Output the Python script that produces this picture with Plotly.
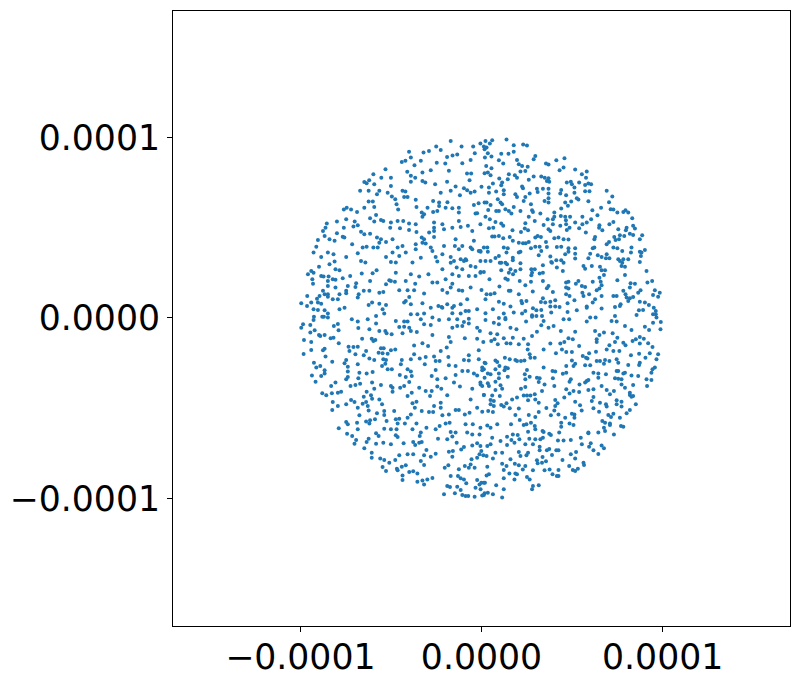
import plotly.graph_objects as go

# points, in units of 1e-4, one list per quadrant of the disc
upper_left = [
    (-0.17,0.98),(-0.25,0.95),(-0.225,0.93),(-0.29,0.925),(-0.32,0.916),(-0.40,0.92),(-0.39,0.888),(-0.42,0.87),(-0.44,0.864),(-0.335,0.87),
    (-0.37,0.846),(-0.41,0.81),(-0.39,0.787),(-0.366,0.777),(-0.39,0.754),(-0.326,0.805),(-0.28,0.818),(-0.247,0.86),(-0.20,0.855),(-0.18,0.815),
    (-0.19,0.892),(-0.16,0.90),(-0.134,0.905),(-0.11,0.95),(-0.046,0.95),(-0.006,0.966),(0.013,0.95),(-0.037,0.912),(-0.106,0.857),(-0.06,0.875),
    (-0.08,0.80),(-0.057,0.80),(-0.066,0.763),(0.0,0.726),(-0.19,0.755),(-0.143,0.728),(-0.097,0.718),(-0.079,0.707),(-0.119,0.68),(-0.06,0.694),
    (-0.038,0.70),(-0.17,0.704),(-0.225,0.694),(-0.31,0.75),(-0.326,0.759),(-0.256,0.74),(-0.53,0.824),(-0.597,0.796),(-0.553,0.777),(-0.50,0.777),
    (-0.62,0.763),(-0.647,0.753),(-0.634,0.746),(-0.592,0.74),(-0.50,0.731),(-0.67,0.704),(-0.623,0.704),(-0.564,0.704),(-0.518,0.694),(-0.436,0.704),
    (-0.42,0.70),(-0.577,0.685),(-0.495,0.672),(-0.476,0.657),(-0.427,0.67),(-0.408,0.67),(-0.623,0.645),(-0.60,0.645),(-0.363,0.654),(-0.359,0.615),
    (-0.469,0.63),(-0.46,0.60),(-0.267,0.648),(-0.234,0.639),(-0.188,0.641),(-0.76,0.60),(-0.744,0.61),(-0.72,0.60),(-0.687,0.587),(-0.647,0.61),
    (-0.592,0.615),(-0.582,0.57),(-0.615,0.552),(-0.592,0.534),(-0.555,0.543),(-0.542,0.537),(-0.747,0.547),(-0.76,0.50),(-0.70,0.534),(-0.683,0.513),
    (-0.707,0.506),(-0.798,0.534),(-0.854,0.523),(-0.861,0.50),(-0.875,0.482),(-0.798,0.469),(-0.866,0.454),(-0.839,0.436),(-0.811,0.427),(-0.903,0.432),
    (-0.912,0.395),(-0.927,0.362),(-0.766,0.45),(-0.757,0.445),(-0.714,0.408),(-0.665,0.478),(-0.647,0.464),(-0.615,0.467),(-0.577,0.445),(-0.656,0.39),
    (-0.634,0.395),(-0.597,0.39),(-0.573,0.39),(-0.555,0.436),(-0.564,0.417),(-0.527,0.421),(-0.491,0.436),(-0.50,0.528),(-0.504,0.50),(-0.463,0.537),
    (-0.432,0.537),(-0.45,0.497),(-0.40,0.523),(-0.363,0.519),(-0.40,0.487),(-0.359,0.476),(-0.33,0.584),(-0.317,0.574),(-0.326,0.56),(-0.298,0.611),
    (-0.267,0.587),(-0.244,0.593),(-0.234,0.62),(-0.198,0.611),(-0.161,0.608),(-0.262,0.528),(-0.262,0.5),(-0.216,0.519),(-0.289,0.473),(-0.262,0.482),
    (-0.207,0.491),(-0.161,0.5),(-0.125,0.584),(-0.125,0.537),(-0.115,0.504),(-0.075,0.51),(-0.051,0.482),(-0.006,0.519),(-0.042,0.626),(-0.125,0.611),
    (-0.016,0.635),(-0.033,0.578),(-0.024,0.58),(-0.143,0.436),(-0.106,0.399),(-0.147,0.399),(-0.06,0.39),(-0.042,0.427),(-0.006,0.371),(-0.051,0.38),
    (-0.088,0.325),(-0.097,0.316),(-0.17,0.338),(-0.152,0.316),(-0.253,0.338),(-0.244,0.312),(-0.207,0.399),(-0.326,0.417),(-0.363,0.408),(-0.308,0.412),
    (-0.28,0.39),(-0.262,0.449),(-0.363,0.38),(-0.335,0.334),(-0.381,0.307),(-0.418,0.362),(-0.463,0.39),(-0.436,0.399),(-0.491,0.362),(-0.454,0.343),
    (-0.473,0.307),(-0.5,0.31),(-0.527,0.338),(-0.665,0.316),(-0.641,0.307),(-0.683,0.358),(-0.747,0.338),(-0.811,0.312),(-0.839,0.297),(-0.817,0.353),
    (-0.848,0.362),(-0.885,0.338),(-0.897,0.284),(-0.94,0.26),(-0.927,0.251),(-0.958,0.242),(-0.885,0.233),(-0.872,0.229),(-0.934,0.214),(-0.93,0.19),
    (-0.806,0.27),(-0.784,0.264),(-0.844,0.229),(-0.821,0.214),(-0.848,0.205),(-0.806,0.211),(-0.766,0.22),(-0.725,0.233),(-0.661,0.246),(-0.615,0.205),
    (-0.579,0.264),(-0.601,0.247),(-0.509,0.209),(-0.473,0.251),(-0.478,0.201),(-0.418,0.205),(-0.39,0.242),(-0.344,0.229),(-0.293,0.242),(-0.738,0.177),
    (-0.747,0.15),(-0.692,0.192),(-0.696,0.172),(-0.806,0.168),(-0.848,0.177),(-0.875,0.15),(-0.848,0.131),(-0.784,0.131),(-0.747,0.137),(-0.678,0.131),
    (-0.65,0.15),(-0.619,0.15),(-0.564,0.14),(-0.542,0.144),(-0.527,0.186),(-0.5,0.205),(-0.454,0.153),(-0.408,0.153),(-0.366,0.19),(-0.372,0.153),
    (-0.317,0.135),(-0.271,0.196),(-0.244,0.196),(-0.216,0.155),(-0.17,0.168),(-0.161,0.19),(-0.125,0.153),(-0.106,0.15),(-0.06,0.168),(-0.189,0.14),
    (-0.995,0.081),(-0.962,0.122),(-0.963,0.066),(-0.94,0.085),(-0.908,0.107),(-0.894,0.122),(-0.903,0.085),(-0.885,0.079),(-0.866,0.131),(-0.848,0.118),
    (-0.821,0.103),(-0.793,0.103),(-0.784,0.048),(-0.756,0.057),(-0.683,0.113),(-0.623,0.072),(-0.604,0.085),(-0.564,0.079),(-0.527,0.072),(-0.418,0.094),
    (-0.399,0.116),(-0.427,0.085),(-0.39,0.076),(-0.326,0.081),(-0.238,0.066),(-0.22,0.061),(-0.189,0.076),(-0.152,0.066),(-0.115,0.076),(-0.079,0.103),
    (-0.927,0.048),(-0.903,0.044),(-0.866,0.042),(-0.848,0.024),(-0.925,0.007),(-0.879,0.007),(-0.87,0.007),(-0.848,0.002),(-0.582,0.011),(-0.546,0.048),
    (-0.537,0.024),(-0.39,0.02),(-0.354,0.02),(-0.317,0.024),(-0.28,0.057),(-0.271,0.002),(-0.216,0.057),(-0.161,0.057),(-0.161,0.026),(-0.115,0.024),
    (-0.088,0.039),(-0.07,0.039),(-0.024,0.048),
]

upper_right = [
    (0.138,0.988),(0.059,0.984),(0.022,0.98),(0.046,0.966),(0.178,0.957),(0.23,0.96),(0.251,0.955),(0.028,0.944),(0.017,0.934),(0.035,0.912),
    (0.109,0.91),(0.149,0.91),(0.178,0.921),(0.055,0.894),(0.019,0.888),(0.297,0.897),(0.288,0.879),(0.458,0.885),(0.413,0.874),(0.196,0.875),
    (0.206,0.851),(0.096,0.873),(0.12,0.855),(0.356,0.855),(0.37,0.85),(0.453,0.833),(0.431,0.818),(0.517,0.822),(0.224,0.842),(0.255,0.838),
    (0.242,0.814),(0.215,0.811),(0.581,0.811),(0.554,0.796),(0.577,0.777),(0.055,0.829),(0.026,0.842),(0.035,0.805),(0.017,0.801),(0.05,0.79),
    (0.151,0.796),(0.184,0.79),(0.196,0.777),(0.145,0.768),(0.098,0.772),(0.288,0.783),(0.261,0.766),(0.33,0.783),(0.349,0.777),(0.37,0.774),
    (0.361,0.759),(0.374,0.755),(0.063,0.744),(0.114,0.75),(0.109,0.735),(0.224,0.728),(0.229,0.718),(0.471,0.75),(0.493,0.755),(0.499,0.741),
    (0.539,0.75),(0.572,0.737),(0.59,0.744),(0.605,0.741),(0.513,0.722),(0.041,0.722),(0.041,0.694),(0.081,0.70),(0.123,0.707),(0.123,0.685),
    (0.306,0.716),(0.339,0.715),(0.37,0.716),(0.31,0.698),(0.37,0.689),(0.37,0.663),(0.348,0.648),(0.37,0.639),(0.44,0.709),(0.435,0.689),
    (0.467,0.68),(0.513,0.694),(0.572,0.702),(0.596,0.702),(0.691,0.704),(0.722,0.672),(0.187,0.685),(0.196,0.67),(0.242,0.67),(0.266,0.689),
    (0.233,0.648),(0.526,0.663),(0.535,0.656),(0.59,0.646),(0.704,0.641),(0.09,0.657),(0.105,0.639),(0.114,0.63),(0.05,0.626),(0.017,0.639),
    (0.028,0.639),(0.273,0.63),(0.462,0.639),(0.495,0.645),(0.477,0.622),(0.44,0.606),(0.402,0.584),(0.178,0.615),(0.132,0.602),(0.151,0.593),
    (0.165,0.578),(0.096,0.593),(0.081,0.593),(0.037,0.598),(0.215,0.593),(0.279,0.596),(0.284,0.587),(0.325,0.578),(0.612,0.596),(0.66,0.611),
    (0.64,0.569),(0.713,0.602),(0.728,0.6),(0.75,0.584),(0.795,0.597),(0.783,0.587),(0.81,0.584),(0.832,0.552),(0.728,0.532),(0.706,0.519),
    (0.651,0.513),(0.649,0.50),(0.667,0.486),(0.022,0.561),(0.046,0.547),(0.077,0.532),(0.109,0.523),(0.12,0.51),(0.041,0.497),(0.065,0.5),
    (0.261,0.561),(0.242,0.524),(0.294,0.537),(0.343,0.515),(0.365,0.547),(0.394,0.547),(0.402,0.56),(0.438,0.565),(0.462,0.561),(0.489,0.56),
    (0.466,0.541),(0.517,0.528),(0.557,0.561),(0.581,0.528),(0.605,0.547),(0.557,0.519),(0.539,0.497),(0.576,0.473),(0.171,0.486),(0.239,0.495),
    (0.257,0.486),(0.218,0.476),(0.37,0.491),(0.38,0.482),(0.435,0.51),(0.471,0.487),(0.486,0.5),(0.467,0.519),(0.394,0.519),(0.059,0.451),
    (0.072,0.451),(0.096,0.454),(0.12,0.441),(0.156,0.449),(0.173,0.427),(0.297,0.445),(0.31,0.454),(0.328,0.449),(0.402,0.441),(0.425,0.445),
    (0.453,0.436),(0.48,0.434),(0.627,0.449),(0.623,0.436),(0.755,0.491),(0.801,0.5),(0.797,0.486),(0.819,0.467),(0.837,0.46),(0.837,0.51),
    (0.847,0.495),(0.764,0.458),(0.788,0.454),(0.733,0.449),(0.74,0.432),(0.759,0.436),(0.874,0.436),(0.887,0.458),(0.704,0.421),(0.691,0.408),
    (0.206,0.417),(0.229,0.414),(0.244,0.414),(0.261,0.421),(0.297,0.395),(0.273,0.386),(0.356,0.421),(0.361,0.393),(0.321,0.395),(0.33,0.371),
    (0.416,0.393),(0.44,0.395),(0.48,0.386),(0.48,0.367),(0.517,0.386),(0.123,0.39),(0.145,0.386),(0.138,0.362),(0.215,0.366),(0.206,0.362),
    (0.032,0.39),(0.035,0.367),(-0.005,0.366),(0.096,0.343),(0.077,0.332),(0.173,0.334),(0.173,0.319),(0.101,0.306),(0.109,0.306),(0.022,0.316),
    (0.05,0.316),(0.132,0.306),(0.141,0.297),(0.215,0.303),(0.316,0.347),(0.38,0.34),(0.389,0.306),(0.413,0.319),(0.44,0.319),(0.453,0.306),
    (0.462,0.353),(0.517,0.356),(0.517,0.329),(0.6,0.356),(0.614,0.386),(0.623,0.39),(0.59,0.331),(0.642,0.347),(0.663,0.338),(0.691,0.353),
    (0.687,0.331),(0.706,0.331),(0.728,0.39),(0.75,0.386),(0.777,0.371),(0.828,0.39),(0.825,0.362),(0.755,0.325),(0.764,0.316),(0.783,0.325),
    (0.81,0.325),(0.874,0.367),(0.902,0.377),(0.883,0.362),(0.88,0.343),(0.874,0.31),(0.773,0.288),(0.792,0.283),(0.777,0.306),(0.109,0.264),
    (0.215,0.27),(0.187,0.26),(0.16,0.27),(0.151,0.251),(0.174,0.242),(0.132,0.218),(0.145,0.211),(0.044,0.214),(-0.005,0.255),(0.013,0.255),
    (0.275,0.27),(0.294,0.27),(0.279,0.251),(0.321,0.246),(0.339,0.251),(0.339,0.292),(0.385,0.31),(0.275,0.236),(0.416,0.279),(0.449,0.26),
    (0.563,0.288),(0.572,0.273),(0.609,0.288),(0.654,0.284),(0.663,0.264),(0.682,0.264),(0.676,0.238),(0.651,0.223),(0.792,0.238),(0.75,0.209),
    (0.911,0.26),(0.942,0.205),(0.916,0.196),(0.847,0.19),(0.823,0.192),(0.819,0.168),(0.211,0.205),(0.242,0.181),(0.273,0.201),(0.339,0.205),
    (0.37,0.177),(0.361,0.164),(0.467,0.196),(0.48,0.2),(0.467,0.168),(0.48,0.163),(0.521,0.19),(0.535,0.205),(0.099,0.174),(0.0,0.155),
    (0.151,0.15),(0.16,0.15),(0.283,0.146),(0.394,0.144),(0.554,0.177),(0.572,0.172),(0.614,0.201),(0.658,0.201),(0.663,0.181),(0.651,0.163),
    (0.636,0.153),(0.557,0.14),(0.028,0.131),(0.05,0.131),(0.072,0.137),(0.022,0.103),(0.206,0.131),(0.339,0.109),(0.467,0.131),(0.486,0.122),
    (0.563,0.122),(0.594,0.131),(0.663,0.122),(0.728,0.122),(0.746,0.122),(0.783,0.15),(0.795,0.131),(0.819,0.109),(0.837,0.116),(0.865,0.14),
    (0.878,0.153),(0.947,0.127),(0.957,0.153),(0.984,0.14),(0.975,0.118),(0.801,0.113),(0.81,0.094),(0.096,0.09),(0.123,0.079),(0.22,0.094),
    (0.248,0.094),(0.224,0.081),(0.328,0.089),(0.352,0.085),(0.38,0.09),(0.407,0.098),(0.475,0.081),(0.513,0.098),(0.627,0.103),(0.614,0.085),
    (0.581,0.063),(0.874,0.09),(0.902,0.085),(0.924,0.072),(0.768,0.076),(0.737,0.061),(0.892,0.044),(0.869,0.042),(0.951,0.057),(0.962,0.039),
    (0.962,0.02),(0.947,0.02),(0.966,0.002),(0.022,0.026),(0.063,0.048),(0.123,0.024),(0.16,0.063),(0.178,0.03),(0.224,0.024),(0.242,0.039),
    (0.284,0.054),(0.303,0.042),(0.33,0.044),(0.279,0.015),(0.303,0.011),(0.334,0.011),(0.38,0.063),(0.385,0.03),(0.407,0.063),(0.431,0.061),
    (0.475,0.033),(0.526,0.042),(0.581,0.057),(0.663,0.052),(0.737,0.011),(0.764,0.066),(0.856,0.017),(0.132,0.0),
]

lower_left = [
    (-0.995,-0.054),(-0.985,-0.035),(-0.945,-0.039),(-0.927,-0.011),(-0.945,-0.081),(-0.921,-0.068),(-0.897,-0.094),(-0.89,-0.1),(-0.866,-0.094),(-0.98,-0.122),
    (-0.94,-0.133),(-0.982,-0.2),(-0.94,-0.177),(-0.866,-0.17),(-0.875,-0.179),(-0.861,-0.214),(-0.833,-0.113),(-0.817,-0.109),(-0.788,-0.14),(-0.815,-0.044),
    (-0.793,-0.033),(-0.789,-0.068),(-0.716,-0.007),(-0.683,-0.02),(-0.68,-0.055),(-0.628,-0.007),(-0.619,-0.063),(-0.582,-0.03),(-0.564,-0.072),(-0.531,-0.072),
    (-0.524,-0.085),(-0.496,-0.09),(-0.659,-0.115),(-0.606,-0.115),(-0.597,-0.128),(-0.586,-0.122),(-0.734,-0.159),(-0.707,-0.161),(-0.683,-0.159),(-0.729,-0.183),
    (-0.637,-0.183),(-0.65,-0.207),(-0.696,-0.201),(-0.555,-0.168),(-0.54,-0.168),(-0.568,-0.192),(-0.546,-0.196),(-0.518,-0.198),(-0.5,-0.179),(-0.476,-0.174),
    (-0.619,-0.224),(-0.592,-0.233),(-0.542,-0.229),(-0.527,-0.233),(-0.531,-0.253),(-0.549,-0.266),(-0.747,-0.233),(-0.756,-0.251),(-0.683,-0.257),(-0.738,-0.27),
    (-0.738,-0.297),(-0.925,-0.248),(-0.912,-0.275),(-0.89,-0.266),(-0.866,-0.29),(-0.866,-0.307),(-0.885,-0.321),(-0.936,-0.318),(-0.916,-0.353),(-0.824,-0.242),
    (-0.674,-0.303),(-0.68,-0.334),(-0.634,-0.307),(-0.601,-0.299),(-0.747,-0.34),(-0.738,-0.327),(-0.806,-0.358),(-0.83,-0.377),(-0.696,-0.371),(-0.723,-0.377),
    (-0.67,-0.364),(-0.604,-0.358),(-0.592,-0.392),(-0.555,-0.371),(-0.5,-0.377),(-0.491,-0.386),(-0.491,-0.408),(-0.879,-0.417),(-0.857,-0.428),(-0.826,-0.417),
    (-0.793,-0.414),(-0.775,-0.408),(-0.821,-0.465),(-0.793,-0.488),(-0.824,-0.51),(-0.747,-0.478),(-0.72,-0.454),(-0.701,-0.465),(-0.65,-0.436),(-0.634,-0.408),
    (-0.61,-0.428),(-0.604,-0.447),(-0.564,-0.451),(-0.549,-0.478),(-0.683,-0.497),(-0.656,-0.475),(-0.637,-0.465),(-0.628,-0.488),(-0.623,-0.512),(-0.577,-0.528),
    (-0.537,-0.515),(-0.537,-0.537),(-0.482,-0.515),(-0.674,-0.539),(-0.747,-0.576),(-0.738,-0.589),(-0.788,-0.611),(-0.687,-0.58),(-0.683,-0.617),(-0.637,-0.574),
    (-0.615,-0.567),(-0.588,-0.561),(-0.619,-0.584),(-0.524,-0.571),(-0.473,-0.561),(-0.454,-0.558),(-0.463,-0.584),(-0.423,-0.584),(-0.39,-0.534),(-0.408,-0.552),
    (-0.537,-0.613),(-0.5,-0.617),(-0.469,-0.617),(-0.381,-0.617),(-0.359,-0.585),(-0.742,-0.641),(-0.714,-0.654),(-0.692,-0.676),(-0.701,-0.696),(-0.582,-0.639),
    (-0.568,-0.654),(-0.623,-0.669),(-0.634,-0.687),(-0.582,-0.696),(-0.542,-0.691),(-0.5,-0.7),(-0.647,-0.722),(-0.473,-0.65),(-0.463,-0.659),(-0.43,-0.694),
    (-0.377,-0.687),(-0.366,-0.704),(-0.344,-0.691),(-0.33,-0.687),(-0.335,-0.635),(-0.341,-0.654),(-0.304,-0.608),(-0.253,-0.617),(-0.231,-0.598),(-0.24,-0.669),
    (-0.606,-0.746),(-0.606,-0.774),(-0.559,-0.778),(-0.537,-0.787),(-0.509,-0.802),(-0.476,-0.787),(-0.454,-0.761),(-0.408,-0.755),(-0.377,-0.755),(-0.546,-0.826),
    (-0.527,-0.848),(-0.467,-0.835),(-0.463,-0.844),(-0.44,-0.824),(-0.418,-0.816),(-0.335,-0.792),(-0.317,-0.814),(-0.304,-0.731),(-0.28,-0.768),(-0.253,-0.752),
    (-0.317,-0.761),(-0.399,-0.853),(-0.377,-0.849),(-0.354,-0.862),(-0.436,-0.872),(-0.436,-0.898),(-0.354,-0.907),(-0.326,-0.9),(-0.299,-0.894),(-0.271,-0.886),
    (-0.317,-0.922),(-0.203,-0.829),(-0.183,-0.816),(-0.125,-0.838),(-0.207,-0.977),(-0.189,-0.931),(-0.174,-0.936),(-0.17,-0.875),(-0.13,-0.875),(-0.115,-0.888),
    (-0.097,-0.894),(-0.084,-0.916),(-0.134,-0.935),(-0.115,-0.953),(-0.147,-0.971),(-0.106,-0.981),(-0.088,-0.986),(-0.073,-0.986),(-0.038,-0.99),(-0.033,-0.94),
    (-0.011,-0.922),(-0.024,-0.898),(0.013,-0.912),(0.013,-0.98),(-0.473,-0.017),(-0.427,-0.02),(-0.408,-0.02),(-0.454,-0.05),(-0.427,-0.048),(-0.399,-0.054),
    (-0.39,-0.072),(-0.436,-0.085),(-0.357,-0.078),(-0.335,-0.007),(-0.317,-0.035),(-0.28,-0.039),(-0.234,-0.011),(-0.271,-0.094),(-0.372,-0.152),(-0.326,-0.14),
    (-0.295,-0.155),(-0.372,-0.201),(-0.39,-0.229),(-0.341,-0.224),(-0.308,-0.216),(-0.262,-0.214),(-0.225,-0.183),(-0.192,-0.164),(-0.183,-0.216),(-0.44,-0.233),
    (-0.445,-0.257),(-0.408,-0.284),(-0.39,-0.297),(-0.385,-0.321),(-0.418,-0.327),(-0.451,-0.316),(-0.495,-0.284),(-0.518,-0.284),(-0.313,-0.257),(-0.253,-0.238),
    (-0.231,-0.238),(-0.253,-0.288),(-0.275,-0.321),(-0.244,-0.34),(-0.198,-0.334),(-0.152,-0.358),(-0.143,-0.316),(-0.18,-0.262),(-0.143,-0.266),(-0.399,-0.355),
    (-0.427,-0.377),(-0.449,-0.386),(-0.344,-0.386),(-0.308,-0.405),(-0.275,-0.405),(-0.244,-0.38),(-0.222,-0.392),(-0.284,-0.432),(-0.189,-0.428),(-0.408,-0.432),
    (-0.385,-0.414),(-0.381,-0.473),(-0.359,-0.464),(-0.368,-0.497),(-0.33,-0.515),(-0.262,-0.488),(-0.225,-0.469),(-0.225,-0.497),(-0.29,-0.521),(-0.267,-0.521),
    (-0.216,-0.539),(-0.18,-0.534),(-0.143,-0.51),(-0.125,-0.51),(-0.06,-0.451),(-0.024,-0.497),(-0.066,-0.525),(-0.092,-0.534),(-0.198,-0.584),(-0.176,-0.58),
    (-0.088,-0.589),(-0.048,-0.589),(-0.079,-0.635),(-0.051,-0.645),(-0.011,-0.645),(-0.006,-0.608),(-0.17,-0.632),(-0.143,-0.635),(-0.189,-0.672),(-0.161,-0.657),
    (-0.137,-0.691),(-0.097,-0.715),(-0.051,-0.706),(-0.024,-0.694),(-0.18,-0.741),(-0.158,-0.737),(-0.112,-0.728),(-0.006,-0.709),(-0.161,-0.768),(-0.055,-0.783),
    (-0.024,-0.774),(-0.011,-0.755),(-0.092,-0.82),(-0.07,-0.829),(-0.038,-0.829),(-0.06,-0.811),(-0.18,-0.007),(-0.134,-0.007),(-0.07,-0.004),(-0.161,-0.054),
    (-0.134,-0.044),(-0.106,-0.044),(-0.07,-0.03),(-0.097,-0.022),(-0.024,-0.054),(-0.009,-0.072),(-0.18,-0.105),(-0.17,-0.133),(-0.092,-0.113),(-0.024,-0.115),
    (-0.015,-0.179),(-0.07,-0.207),(-0.097,-0.233),(-0.015,-0.229),(-0.07,-0.235),(-0.106,-0.294),(-0.075,-0.294),(-0.042,-0.307),(-0.024,-0.318),(0.013,-0.284),
    (-0.006,-0.358),(-0.051,-0.392),(0.013,-0.427),(-0.119,-0.38),
]

lower_right = [
    (0.022,-0.011),(0.068,-0.026),(0.096,0.0),(0.096,-0.035),(0.132,-0.007),(0.246,-0.02),(0.279,0.007),(0.33,-0.041),(0.343,-0.017),(0.37,-0.054),
    (0.398,-0.044),(0.438,-0.072),(0.453,-0.007),(0.484,-0.007),(0.517,-0.076),(0.581,-0.02),(0.6,0.002),(0.63,0.002),(0.627,-0.072),(0.676,-0.081),
    (0.651,-0.094),(0.724,-0.085),(0.718,-0.017),(0.746,-0.02),(0.792,-0.044),(0.828,-0.067),(0.902,-0.048),(0.925,-0.067),(0.947,-0.026),(0.99,-0.022),
    (0.988,-0.063),(0.05,-0.085),(0.087,-0.09),(0.16,-0.054),(0.193,-0.063),(0.306,-0.076),(0.279,-0.1),(0.173,-0.109),(0.123,-0.113),(0.072,-0.118),
    (0.054,-0.127),(0.01,-0.133),(0.09,-0.146),(0.138,-0.14),(0.16,-0.142),(0.206,-0.146),(0.233,-0.115),(0.257,-0.146),(0.38,-0.142),(0.435,-0.142),
    (0.457,-0.133),(0.48,-0.113),(0.504,-0.118),(0.539,-0.155),(0.343,-0.174),(0.255,-0.174),(0.411,-0.196),(0.444,-0.174),(0.468,-0.188),(0.499,-0.188),
    (0.636,-0.118),(0.636,-0.133),(0.706,-0.151),(0.737,-0.133),(0.75,-0.109),(0.783,-0.137),(0.795,-0.151),(0.874,-0.105),(0.896,-0.115),(0.92,-0.14),
    (0.874,-0.142),(0.834,-0.127),(0.852,-0.118),(0.944,-0.161),(0.691,-0.174),(0.728,-0.183),(0.761,-0.183),(0.632,-0.187),(0.594,-0.196),(0.577,-0.22),
    (0.585,-0.224),(0.559,-0.211),(0.975,-0.201),(0.929,-0.196),(0.905,-0.22),(0.87,-0.198),(0.825,-0.207),(0.966,-0.229),(0.874,-0.248),(0.87,-0.26),
    (0.81,-0.26),(0.682,-0.233),(0.706,-0.238),(0.654,-0.238),(0.746,-0.229),(0.755,-0.248),(0.636,-0.238),(0.676,-0.253),(0.957,-0.275),(0.944,-0.284),
    (0.938,-0.303),(0.938,-0.344),(0.911,-0.34),(0.914,-0.377),(0.865,-0.321),(0.828,-0.318),(0.783,-0.307),(0.792,-0.303),(0.755,-0.294),(0.746,-0.294),
    (0.773,-0.34),(0.737,-0.334),(0.755,-0.336),(0.792,-0.386),(0.773,-0.368),(0.837,-0.371),(0.618,-0.303),(0.645,-0.307),(0.645,-0.331),(0.687,-0.312),
    (0.572,-0.262),(0.6,-0.262),(0.508,-0.266),(0.517,-0.253),(0.499,-0.235),(0.468,-0.266),(0.343,-0.275),(0.392,-0.294),(0.407,-0.297),(0.394,-0.334),
    (0.449,-0.309),(0.468,-0.303),(0.493,-0.34),(0.486,-0.353),(0.581,-0.349),(0.59,-0.344),(0.572,-0.358),(0.541,-0.368),(0.004,-0.275),(0.004,-0.29),
    (0.077,-0.284),(0.096,-0.307),(0.127,-0.29),(0.145,-0.279),(0.035,-0.307),(0.05,-0.312),(0.017,-0.331),(0.096,-0.334),(0.145,-0.325),(0.239,-0.312),
    (0.251,-0.288),(0.242,-0.34),(0.266,-0.325),(0.306,-0.331),(0.321,-0.334),(0.316,-0.355),(0.348,-0.368),(0.402,-0.377),(0.242,-0.382),(0.218,-0.392),
    (0.334,-0.405),(-0.005,-0.368),(0.035,-0.362),(0.041,-0.377),(0.077,-0.353),(0.105,-0.373),(0.114,-0.392),(0.077,-0.399),(0.004,-0.377),(0.468,-0.395),
    (0.508,-0.405),(0.539,-0.41),(0.59,-0.399),(0.618,-0.395),(0.663,-0.377),(0.691,-0.399),(0.731,-0.405),(0.709,-0.423),(0.819,-0.414),(0.837,-0.432),
    (0.819,-0.427),(0.828,-0.436),(0.486,-0.419),(0.457,-0.441),(0.013,-0.427),(0.059,-0.429),(0.101,-0.432),(0.169,-0.451),(0.196,-0.441),(0.233,-0.429),
    (0.251,-0.429),(0.27,-0.429),(0.294,-0.423),(0.297,-0.451),(0.257,-0.456),(0.05,-0.454),(0.068,-0.46),(0.068,-0.488),(0.05,-0.478),(0.109,-0.482),
    (0.123,-0.491),(0.138,-0.473),(0.156,-0.5),(0.206,-0.502),(0.316,-0.469),(0.358,-0.499),(0.407,-0.454),(0.42,-0.473),(0.407,-0.488),(0.517,-0.464),
    (0.544,-0.484),(0.553,-0.512),(0.609,-0.46),(0.618,-0.438),(0.618,-0.5),(0.654,-0.469),(0.649,-0.519),(0.687,-0.478),(0.691,-0.491),(0.746,-0.456),
    (0.773,-0.464),(0.746,-0.478),(0.773,-0.491),(0.852,-0.478),(0.004,-0.519),(0.037,-0.515),(0.063,-0.521),(0.187,-0.537),(0.316,-0.521),(0.383,-0.539),
    (0.402,-0.512),(0.425,-0.534),(0.499,-0.53),(0.513,-0.534),(0.513,-0.552),(0.211,-0.565),(0.261,-0.537),(0.297,-0.549),(0.462,-0.552),(0.44,-0.58),
    (0.486,-0.584),(0.508,-0.593),(0.667,-0.571),(0.7,-0.537),(0.715,-0.549),(0.728,-0.53),(0.819,-0.51),(0.801,-0.528),(0.764,-0.552),(0.032,-0.595),
    (0.05,-0.608),(0.087,-0.589),(0.163,-0.589),(0.233,-0.593),(0.248,-0.589),(0.273,-0.58),(0.294,-0.598),(0.297,-0.617),(0.257,-0.63),(0.337,-0.626),
    (0.343,-0.632),(0.374,-0.641),(0.383,-0.648),(0.429,-0.635),(0.44,-0.602),(0.682,-0.58),(0.709,-0.584),(0.709,-0.593),(0.676,-0.608),(0.682,-0.626),
    (0.77,-0.598),(0.783,-0.602),(0.645,-0.635),(0.59,-0.635),(0.731,-0.645),(0.059,-0.663),(0.141,-0.658),(0.173,-0.645),(0.2,-0.648),(0.165,-0.676),
    (0.182,-0.691),(0.209,-0.672),(0.264,-0.669),(0.297,-0.672),(0.284,-0.7),(0.325,-0.672),(0.339,-0.663),(0.105,-0.682),(0.141,-0.704),(0.032,-0.709),
    (0.05,-0.7),(0.077,-0.746),(0.114,-0.746),(-0.001,-0.737),(0.01,-0.761),(0.028,-0.765),(0.063,-0.778),(0.242,-0.7),(0.206,-0.743),(0.215,-0.765),
    (0.257,-0.746),(0.248,-0.761),(0.321,-0.713),(0.321,-0.733),(0.361,-0.733),(0.374,-0.726),(0.413,-0.733),(0.425,-0.733),(0.389,-0.759),(0.422,-0.678),
    (0.453,-0.678),(0.493,-0.676),(0.548,-0.663),(0.59,-0.639),(0.554,-0.7),(0.603,-0.694),(0.594,-0.713),(0.663,-0.706),(0.676,-0.722),(0.618,-0.733),
    (0.645,-0.754),(0.16,-0.783),(0.114,-0.807),(0.138,-0.82),(0.184,-0.807),(0.206,-0.816),(0.242,-0.82),(0.228,-0.839),(0.306,-0.788),(0.31,-0.805),
    (0.334,-0.802),(0.356,-0.794),(0.337,-0.77),(0.447,-0.787),(0.493,-0.755),(0.522,-0.743),(0.517,-0.778),(0.484,-0.82),(0.563,-0.802),(0.566,-0.814),
    (0.032,-0.824),(0.123,-0.842),(0.041,-0.866),(0.028,-0.872),(0.123,-0.888),(0.154,-0.861),(0.187,-0.861),(0.196,-0.866),(0.182,-0.894),(0.284,-0.844),
    (0.348,-0.844),(0.376,-0.839),(0.425,-0.842),(0.392,-0.866),(0.416,-0.875),(0.425,-0.875),(0.504,-0.842),(0.532,-0.835),(0.517,-0.848),(-0.001,-0.912),
    (0.019,-0.912),(0.251,-0.881),(0.266,-0.894),(0.081,-0.927),(0.284,-0.931),(0.316,-0.927),(0.279,-0.949),(0.123,-0.949),(-0.005,-0.949),(0.017,-0.971),
    (0.035,-0.968),(0.063,-0.977),(0.114,-0.995),(0.004,-0.983),
]

# second pass over the middle of the disc, where the first reading missed points
centre_extra = [
    (-0.33,0.445),(-0.317,0.436),(-0.271,0.371),(-0.216,0.353),(-0.115,0.325),(-0.084,0.32),(-0.06,0.288),(-0.033,0.282),(-0.006,0.316),(-0.125,0.38),
    (-0.015,0.371),(0.013,0.39),(-0.216,0.27),(-0.17,0.306),(-0.137,0.279),(-0.106,0.27),(-0.07,0.233),(-0.033,0.233),(-0.006,0.251),(-0.125,0.233),
    (-0.198,0.214),(-0.161,0.242),(0.077,-0.235),(0.087,-0.244),(0.129,-0.22),(0.156,-0.229),(0.187,-0.233),(0.196,-0.238),(0.218,-0.238),(0.237,-0.235),
    (0.017,-0.248),(0.022,-0.251),(0.27,-0.22),(0.294,-0.22),(0.266,-0.201),(0.099,-0.266),(0.132,-0.275),
]

tick_values = [-1e-4, 0.0, 1e-4]
tick_labels = ["\u22120.0001", "0.0000", "0.0001"]

points = upper_left + upper_right + lower_left + lower_right + centre_extra
x = [p[0] * 1e-4 for p in points]
y = [p[1] * 1e-4 for p in points]

fig = go.Figure()
fig.add_trace(go.Scatter(x=x, y=y, mode="markers", marker=dict(color="#1f77b4", size=4, line_width=0)))

axis_style = dict(
    tickmode="array",
    tickvals=tick_values,
    ticktext=tick_labels,
    ticks="outside",
    ticklen=5,
    tickwidth=1,
    tickcolor="black",
    showgrid=False,
    zeroline=False,
    showline=True,
    linecolor="black",
    linewidth=1,
    mirror=True,
    tickfont=dict(family="DejaVu Sans", size=34.7, color="black"),
)
fig.update_xaxes(range=[-1.703e-4, 1.703e-4], ticklabelstandoff=-5, **axis_style)
fig.update_yaxes(range=[-1.706e-4, 1.70e-4], **axis_style)
# the page body adds 8px on the left and top, so the figure is 8px smaller
fig.update_layout(
    width=792,
    height=671,
    margin=dict(l=161, r=10, t=2, b=52),
    plot_bgcolor="white",
    paper_bgcolor="white",
    showlegend=False,
)
fig.write_html("out.html")
